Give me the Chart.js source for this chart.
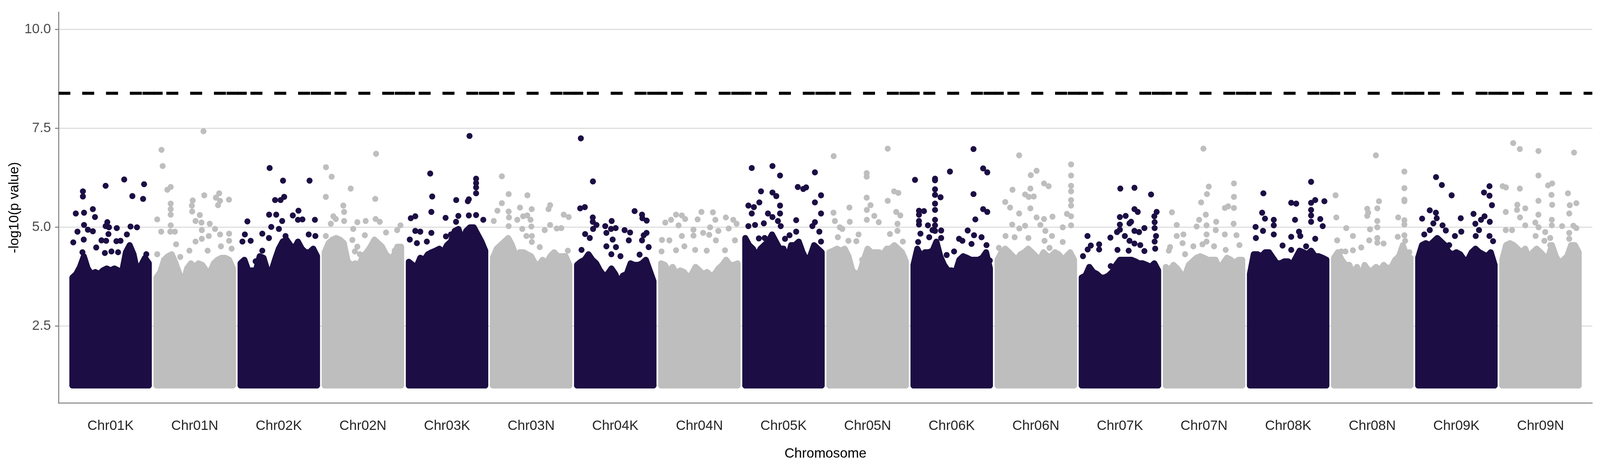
<!DOCTYPE html>
<html>
<head>
<meta charset="utf-8">
<script src="https://cdn.jsdelivr.net/npm/chart.js@4.4.1/dist/chart.umd.min.js"></script>
<style>
html,body{margin:0;padding:0;background:#ffffff;overflow:hidden;}
canvas{display:block;}
</style>
</head>
<body>
<canvas id="chart"></canvas>
<script>
// ---------------- DATA ----------------
const chromosomes = ['Chr01K','Chr01N','Chr02K','Chr02N','Chr03K','Chr03N','Chr04K','Chr04N','Chr05K','Chr05N','Chr06K','Chr06N','Chr07K','Chr07N','Chr08K','Chr08N','Chr09K','Chr09N'];
const chrLength = 100;          // relative position units along each chromosome
const chrSpan = 110;            // cumulative spacing between chromosome starts
const envelopePositions = [0,5,10,15,20,25,30,35,40,45,50,55,60,65,70,75,80,85,90,95,100];
const baseline = 1.0;           // minimum -log10(p) plotted
const threshold = 8.39;         // significance threshold
const thresholdSegStart = -18.3;  // threshold segment start, relative to chromosome start
const thresholdSegEnd = 118.1;    // threshold segment end, relative to chromosome start
const yTicks = [2.5, 5.0, 7.5, 10.0];
const yMin = 0.559, yMax = 10.44;
const xMin = -17.9, xMax = 1987.8;

// top of the dense point mass (at envelopePositions)
const envChr01K = [3.73,3.82,4.00,4.27,3.96,3.82,3.87,3.82,3.91,3.96,3.91,3.96,3.91,3.87,4.37,4.55,4.32,3.87,4.05,4.23,4.09];
const envChr01N = [3.73,3.87,4.18,4.27,4.32,4.09,3.82,3.59,3.96,4.09,4.00,4.09,4.05,3.91,3.87,4.09,4.18,4.23,4.23,4.18,3.96];
const envChr02K = [4.09,4.18,3.91,3.91,3.91,4.27,4.23,3.91,3.87,4.18,4.46,4.64,4.69,4.55,4.46,4.64,4.46,4.37,4.37,4.46,4.27];
const envChr02N = [4.37,4.60,4.69,4.73,4.69,4.60,4.14,4.05,4.09,4.05,4.27,4.37,4.51,4.69,4.60,4.51,4.32,4.23,4.27,4.51,4.51];
const envChr03K = [4.13,4.05,4.00,4.23,4.18,4.32,4.37,4.41,4.46,4.37,4.55,4.64,4.91,4.96,4.64,4.91,5.00,5.00,4.82,4.64,4.41];
const envChr03N = [4.23,4.46,4.55,4.64,4.73,4.55,4.27,4.37,4.37,4.32,4.27,4.09,4.05,4.18,4.09,4.27,4.37,4.27,4.27,4.27,4.05];
const envChr04K = [4.05,4.13,4.18,4.32,4.18,4.09,3.91,3.78,3.82,3.96,3.82,3.59,3.78,3.82,4.09,4.05,4.05,4.09,4.18,3.91,3.64];
const envChr04N = [4.09,4.05,3.87,4.00,3.82,3.91,3.87,3.73,3.82,4.00,3.91,3.82,3.87,3.78,3.82,3.96,4.05,4.18,4.05,4.05,4.09];
const envChr05K = [4.73,4.55,4.46,4.27,4.46,4.55,4.64,4.82,4.64,4.46,4.46,4.18,4.55,4.55,4.64,4.37,4.18,4.27,4.55,4.46,4.37];
const envChr05N = [4.37,4.41,4.46,4.41,4.46,4.27,3.91,3.82,3.87,4.18,4.46,4.37,4.37,4.37,4.32,4.46,4.46,4.55,4.46,4.37,4.14];
const envChr06K = [4.05,4.46,4.27,4.37,4.37,4.41,4.64,4.27,4.05,3.91,3.91,3.87,4.18,4.27,4.23,4.18,4.18,4.18,4.23,4.37,3.96];
const envChr06N = [4.18,4.37,4.46,4.37,4.27,4.18,4.32,4.37,4.46,4.37,4.27,4.18,4.37,4.27,4.27,4.37,4.32,4.18,4.27,4.37,4.18];
const envChr07K = [3.73,3.78,4.00,3.87,3.82,3.73,3.73,3.78,3.87,4.05,4.18,4.18,4.18,4.18,4.14,4.09,4.09,4.05,4.00,4.09,3.91];
const envChr07N = [4.00,3.91,4.05,3.96,3.82,3.78,4.05,4.14,4.23,4.27,4.23,4.18,4.18,4.18,3.96,4.09,4.23,4.18,4.09,4.18,4.18];
const envChr08K = [3.82,4.32,4.32,4.27,4.37,4.37,4.23,4.09,4.09,4.14,4.14,4.05,4.23,4.41,4.37,4.32,4.41,4.27,4.27,4.23,4.18];
const envChr08N = [4.23,4.37,4.18,4.05,4.05,3.82,4.00,3.73,4.05,3.91,3.91,4.00,3.91,4.05,3.96,4.00,4.18,4.27,4.55,4.27,4.23];
const envChr09K = [4.23,4.55,4.60,4.55,4.64,4.73,4.64,4.55,4.37,4.32,4.37,4.32,4.18,4.18,4.37,4.46,4.37,4.32,4.27,4.37,4.05];
const envChr09N = [4.18,4.55,4.60,4.55,4.46,4.37,4.46,4.23,4.37,4.46,4.37,4.27,4.23,4.55,4.27,4.09,4.18,4.27,4.55,4.55,4.37];

// isolated points above the dense mass: [position, -log10(p)]
const outChr01K = [[13.8,5.91],[13.8,5.78],[43.5,6.05],[67.8,6.21],[93.8,6.09],[78.5,5.79],[92.5,5.72],[4.5,5.35],[15.3,5.37],[26.8,5.46],[29.6,5.26],[15.3,5.06],[45.7,5.13],[43.5,5.03],[47.9,5.00],[58.1,4.98],[76.1,5.02],[84.5,5.00],[6.7,4.89],[26.8,4.90],[20.3,4.94],[47.2,4.83],[38.1,4.67],[44.2,4.66],[57.6,4.65],[63.0,4.66],[71.3,4.82],[14.9,4.69],[1.2,4.62],[31.2,4.49],[42.5,4.35],[51.1,4.39],[59.8,4.37],[96.7,4.32],[13.2,4.37]];
const outChr01N = [[61.5,7.43],[6.6,6.96],[8.1,6.55],[14.2,5.95],[18.6,6.02],[62.5,5.81],[77.7,5.75],[82.0,5.86],[83.1,5.67],[80.5,5.56],[94.8,5.70],[47.4,5.68],[46.3,5.55],[46.7,5.40],[18.6,5.60],[18.6,5.46],[18.6,5.32],[1.0,5.20],[56.7,5.31],[51.1,5.16],[58.9,5.12],[18.6,5.05],[69.7,5.09],[76.6,4.96],[59.3,4.93],[68.4,4.78],[6.2,4.89],[18.1,4.89],[24.0,4.89],[25.7,4.57],[31.1,4.25],[51.1,4.64],[59.3,4.71],[95.0,4.84],[95.0,4.66],[98.3,4.46],[83.2,4.82],[84.3,4.52],[43.1,4.41],[66.9,4.41],[1.0,4.32]];
const outChr02K = [[38.0,6.50],[55.5,6.18],[90.2,6.18],[45.1,5.69],[52.3,5.69],[57.0,5.77],[37.3,5.32],[46.6,5.32],[8.9,5.15],[75.7,5.42],[68.3,5.30],[80.9,5.20],[75.0,5.19],[97.2,5.19],[54.4,5.16],[40.1,5.01],[5.6,4.82],[28.4,4.84],[37.1,4.73],[2.4,4.64],[13.2,4.66],[50.1,4.96],[58.8,4.78],[89.1,4.82],[97.8,4.78],[28.4,4.41],[19.7,4.14]];
const outChr02N = [[67.2,6.86],[1.7,6.52],[9.1,6.28],[1.5,5.77],[34.0,5.98],[66.1,5.72],[24.3,5.55],[25.4,5.39],[11.3,5.28],[14.5,5.21],[25.4,5.16],[42.7,5.13],[53.6,5.16],[66.6,5.21],[72.0,5.14],[8.0,5.09],[37.3,4.96],[99.1,5.05],[94.8,4.93],[1.5,4.78],[36.2,4.68],[52.5,4.80],[80.2,4.87],[42.7,4.51],[46.0,4.32],[39.5,4.39],[91.5,4.41],[54.7,4.14]];
const outChr03K = [[79.4,7.31],[28.0,6.36],[88.0,6.23],[88.0,6.12],[88.0,6.01],[88.0,5.86],[30.6,5.78],[62.0,5.69],[77.2,5.66],[78.5,5.71],[29.5,5.39],[2.6,5.23],[8.5,5.28],[48.1,5.24],[64.8,5.29],[78.5,5.30],[88.0,5.31],[97.4,5.19],[61.8,5.14],[8.5,4.91],[15.0,4.89],[29.5,4.86],[1.3,4.69],[10.6,4.60],[23.6,4.64],[48.6,4.77],[55.1,4.82],[98.9,4.43]];
const outChr03N = [[11.7,6.29],[20.6,5.84],[45.1,5.81],[11.7,5.61],[35.4,5.50],[50.7,5.46],[74.8,5.56],[72.7,5.46],[5.9,5.42],[20.6,5.40],[21.0,5.25],[92.6,5.32],[99.1,5.26],[1.1,5.16],[31.9,5.19],[39.5,5.28],[44.9,5.30],[49.2,5.19],[74.8,5.06],[67.7,4.93],[20.6,5.03],[38.4,4.96],[50.3,5.02],[83.5,4.97],[89.4,4.98],[43.8,4.78],[50.9,4.78],[50.9,4.63],[61.2,4.50],[98.0,4.41]];
const outChr04K = [[5.0,7.25],[20.8,6.16],[4.1,5.48],[10.2,5.51],[20.6,5.25],[20.6,5.14],[25.4,5.06],[21.0,4.96],[75.3,5.41],[85.0,5.32],[85.5,5.23],[91.1,5.17],[45.3,5.16],[36.9,5.03],[44.5,4.96],[50.5,4.98],[62.2,4.93],[69.4,4.87],[67.7,4.67],[10.6,4.83],[38.4,4.86],[46.6,4.69],[87.2,4.80],[90.9,4.86],[85.0,4.67],[5.9,4.43],[16.7,4.73],[93.7,4.50],[38.4,4.52],[50.9,4.50],[44.9,4.32],[56.8,4.27],[81.8,4.31]];
const outChr04N = [[52.7,5.39],[67.7,5.38],[19.5,5.32],[27.1,5.30],[31.4,5.21],[5.4,5.12],[13.0,5.19],[47.7,5.20],[70.9,5.19],[84.6,5.25],[94.3,5.19],[98.7,5.09],[22.8,5.05],[42.3,4.94],[54.9,4.86],[64.0,5.00],[74.8,4.91],[62.9,4.81],[27.1,4.78],[42.3,4.79],[88.3,4.97],[1.1,4.68],[10.8,4.67],[71.6,4.67],[96.5,4.67],[30.4,4.52],[44.5,4.43],[59.6,4.41],[19.5,4.42],[0.5,4.39],[83.5,4.42]];
const outChr05K = [[8.5,6.50],[35.6,6.55],[45.5,6.31],[91.1,6.39],[20.6,5.91],[35.6,5.88],[40.6,5.79],[68.7,6.02],[75.9,5.97],[79.6,6.01],[99.1,5.81],[18.4,5.63],[91.1,5.63],[4.1,5.55],[11.3,5.51],[8.5,5.35],[45.5,5.55],[45.5,5.35],[29.7,5.35],[35.6,5.26],[99.1,5.35],[66.6,5.18],[91.1,5.13],[87.8,5.03],[4.1,5.03],[12.8,5.06],[24.3,5.10],[42.7,5.16],[46.4,5.03],[66.6,4.89],[57.9,4.80],[52.0,4.71],[96.9,4.89],[99.1,4.64],[17.8,4.72],[25.4,4.73]];
const outChr05N = [[5.6,6.80],[76.3,6.99],[48.8,6.37],[48.8,6.28],[84.6,5.91],[90.2,5.87],[76.3,5.67],[48.8,5.75],[53.8,5.56],[26.2,5.50],[5.4,5.37],[7.2,5.16],[26.7,5.14],[49.0,5.44],[49.0,5.19],[58.8,5.29],[64.6,5.13],[87.4,5.39],[92.8,5.30],[89.1,5.09],[13.7,5.00],[16.9,4.96],[38.2,4.82],[35.3,4.65],[79.2,4.83],[11.1,4.75],[24.9,4.66],[89.1,4.91],[96.1,4.64],[98.2,4.24],[42.9,4.18]];
const outChr06K = [[78.5,6.98],[2.0,6.20],[28.2,6.23],[28.2,6.19],[47.7,6.41],[91.1,6.49],[96.5,6.39],[28.2,5.96],[28.2,5.82],[35.4,5.76],[78.5,5.84],[28.2,5.60],[28.2,5.44],[7.2,5.42],[13.7,5.41],[7.2,5.32],[91.1,5.46],[96.5,5.39],[80.9,5.20],[7.2,5.16],[7.2,5.07],[18.9,5.05],[24.9,4.93],[28.2,5.19],[28.2,5.05],[28.2,4.91],[70.9,4.92],[36.2,4.92],[36.2,4.73],[9.1,4.84],[20.6,4.75],[79.2,4.80],[75.9,4.58],[89.0,4.75],[95.5,4.55],[59.6,4.71],[64.0,4.66],[6.1,4.63],[53.1,4.39],[43.4,4.30],[99.8,4.16]];
const outChr06N = [[28.2,6.82],[51.0,6.43],[43.4,6.32],[96.1,6.59],[96.1,6.31],[60.7,6.11],[66.8,6.04],[19.5,5.95],[42.9,5.98],[36.0,5.83],[40.8,5.77],[47.3,5.78],[96.1,6.05],[96.1,5.91],[96.1,5.69],[10.0,5.64],[16.3,5.50],[42.9,5.48],[28.2,5.35],[51.0,5.25],[60.7,5.21],[71.8,5.27],[90.7,5.34],[96.1,5.55],[96.1,5.28],[19.1,5.07],[28.4,4.97],[36.0,5.04],[56.0,5.06],[62.5,4.91],[85.2,5.00],[96.1,5.05],[10.4,4.78],[22.3,4.75],[71.1,4.78],[40.3,4.73],[85.2,4.63],[1.7,4.48],[13.7,4.39],[61.4,4.66],[67.9,4.48],[82.0,4.27]];
const outChr07K = [[50.5,5.98],[69.0,6.00],[90.7,5.83],[69.0,5.46],[73.3,5.39],[98.0,5.39],[95.0,5.28],[95.4,5.13],[49.9,5.26],[57.5,5.29],[64.6,5.14],[62.5,5.10],[49.9,5.07],[49.9,4.94],[82.0,4.98],[69.0,4.91],[75.0,4.88],[95.4,4.98],[97.2,4.78],[95.4,4.64],[7.6,4.78],[37.5,4.74],[46.2,4.88],[56.4,4.78],[62.5,4.66],[69.0,4.59],[76.6,4.55],[11.9,4.54],[7.8,4.44],[1.7,4.27],[22.8,4.57],[22.8,4.44],[46.8,4.43],[61.4,4.41],[82.0,4.40],[96.1,4.46],[38.0,4.02]];
const outChr07N = [[49.2,6.99],[56.2,6.03],[53.8,5.84],[89.1,6.11],[89.1,5.77],[89.1,5.49],[46.2,5.63],[77.2,5.49],[81.5,5.53],[8.0,5.38],[52.3,5.32],[43.6,5.19],[65.9,5.14],[14.3,5.06],[40.3,5.02],[53.3,5.05],[65.3,4.93],[88.7,5.09],[14.3,4.78],[23.0,4.82],[77.2,4.82],[92.4,4.80],[21.9,4.60],[53.3,4.82],[53.3,4.64],[3.9,4.41],[5.6,4.50],[36.0,4.52],[47.9,4.57],[63.1,4.52],[96.3,4.55],[25.2,4.32],[78.3,4.43]];
const outChr08K = [[17.6,5.86],[80.0,6.15],[54.0,5.62],[60.5,5.60],[80.0,5.62],[85.4,5.69],[97.4,5.66],[16.0,5.37],[19.7,5.22],[31.2,5.19],[59.0,5.19],[80.0,5.44],[80.0,5.30],[80.0,5.14],[92.0,5.21],[95.2,5.03],[7.4,5.01],[17.1,4.91],[31.2,5.05],[7.8,4.73],[5.6,4.11],[54.0,4.76],[54.0,4.43],[64.2,4.89],[65.9,4.78],[42.7,4.54],[85.4,4.71],[73.5,4.52],[31.2,4.82]];
const outChr08N = [[54.7,6.82],[92.0,6.41],[92.0,5.99],[92.0,5.70],[92.0,5.66],[2.0,5.81],[58.8,5.66],[56.6,5.48],[43.4,5.47],[44.7,5.37],[43.4,5.29],[3.0,5.25],[56.6,5.16],[56.6,5.00],[83.9,5.25],[92.0,5.18],[92.0,5.07],[16.0,4.98],[47.1,4.95],[24.7,4.78],[56.6,4.73],[56.6,4.61],[46.0,4.67],[4.1,4.67],[83.3,4.76],[92.0,4.80],[93.0,4.66],[64.8,4.59],[35.6,4.49],[24.7,4.42],[9.5,4.39],[15.0,4.39],[98.5,4.37]];
const outChr09K = [[23.4,6.27],[31.0,6.07],[43.8,5.81],[93.3,6.04],[86.1,5.88],[93.3,5.80],[96.5,5.56],[15.2,5.43],[23.2,5.37],[5.2,5.22],[55.7,5.23],[72.4,5.34],[86.8,5.28],[82.2,5.19],[93.7,5.14],[24.3,5.23],[19.9,5.10],[31.9,5.05],[36.2,4.92],[74.8,5.09],[8.0,4.82],[15.2,4.93],[56.4,4.89],[48.1,4.78],[75.3,4.78],[79.6,4.93],[93.3,4.78],[98.0,4.65],[40.6,4.55]];
const outChr09N = [[14.3,7.13],[23.0,6.98],[47.3,6.93],[93.9,6.89],[47.3,6.31],[0.5,6.04],[4.8,6.01],[23.0,5.98],[59.9,6.06],[65.3,6.11],[64.4,5.82],[85.9,5.86],[47.3,5.67],[19.7,5.57],[30.1,5.48],[19.3,5.44],[65.3,5.57],[88.3,5.56],[96.9,5.61],[4.6,5.39],[23.2,5.25],[47.3,5.32],[87.6,5.35],[64.8,5.19],[64.8,5.05],[43.2,5.12],[47.5,5.00],[30.1,5.05],[78.3,5.03],[93.0,5.04],[96.9,4.98],[56.2,4.88],[55.1,4.66],[4.6,4.93],[12.8,4.93],[87.6,4.86],[87.6,4.71],[43.6,4.78],[62.7,4.73],[62.7,4.55]];

const envelopes = [envChr01K,envChr01N,envChr02K,envChr02N,envChr03K,envChr03N,envChr04K,envChr04N,envChr05K,envChr05N,envChr06K,envChr06N,envChr07K,envChr07N,envChr08K,envChr08N,envChr09K,envChr09N];
const outliers = [outChr01K,outChr01N,outChr02K,outChr02N,outChr03K,outChr03N,outChr04K,outChr04N,outChr05K,outChr05N,outChr06K,outChr06N,outChr07K,outChr07N,outChr08K,outChr08N,outChr09K,outChr09N];

// ---------------- STYLE / LAYOUT ----------------
const colorDark = '#1c0e44';
const colorLight = '#bebebe';
const FONT = "'Liberation Sans', Arial, Helvetica, sans-serif";

// fit the drawing to the actual viewport (design size 4800 x 1200)
const W = window.innerWidth || 4800;
const H = window.innerHeight || 1200;
const sx = W / 4800, sy = H / 1200;
const s = Math.min(sx, sy);

const canvas = document.getElementById('chart');
canvas.style.width = W + 'px';
canvas.style.height = H + 'px';

const pointRadius = 9 * s;
Chart.defaults.font.family = FONT;

const datasets = [];
// threshold line: one dashed segment per chromosome (drawn on top)
chromosomes.forEach((c, i) => {
  const off = i * chrSpan;
  datasets.push({
    type: 'line',
    data: [{x: off + thresholdSegStart, y: threshold}, {x: off + thresholdSegEnd, y: threshold}],
    borderColor: '#000000',
    borderWidth: 9 * s,
    borderDash: [36 * sx, 35.5 * sx],
    borderCapStyle: 'butt',
    pointRadius: 0,
    fill: false,
    tension: 0
  });
});

chromosomes.forEach((c, i) => {
  const off = i * chrSpan;
  const col = i % 2 === 0 ? colorDark : colorLight;
  // isolated points
  datasets.push({
    type: 'scatter',
    data: outliers[i].map(p => ({x: off + p[0], y: p[1]})),
    backgroundColor: col,
    borderColor: col,
    borderWidth: 0,
    pointRadius: pointRadius,
    pointHoverRadius: pointRadius
  });
  // dense mass outline
  const poly = [{x: off, y: baseline}];
  envelopePositions.forEach((p, k) => poly.push({x: off + p, y: envelopes[i][k]}));
  poly.push({x: off + chrLength, y: baseline});
  datasets.push({
    type: 'line',
    data: poly,
    borderColor: col,
    backgroundColor: col,
    borderWidth: pointRadius * 2,
    borderJoinStyle: 'round',
    borderCapStyle: 'round',
    pointRadius: 0,
    tension: 0,
    fill: {value: baseline}
  });
  // bottom edge of the dense mass (points at the baseline)
  datasets.push({
    type: 'line',
    data: [{x: off, y: baseline}, {x: off + chrLength, y: baseline}],
    borderColor: col,
    borderWidth: pointRadius * 2,
    borderCapStyle: 'round',
    pointRadius: 0,
    fill: false
  });
});

new Chart(canvas, {
  type: 'line',
  data: {datasets},
  options: {
    responsive: false,
    animation: false,
    events: [],
    layout: {padding: {left: 0, right: 23 * sx, top: 23 * sy, bottom: 0}},
    plugins: {legend: {display: false}, tooltip: {enabled: false}},
    scales: {
      x: {
        type: 'linear',
        position: 'bottom',
        min: xMin,
        max: xMax,
        afterBuildTicks: (scale) => { scale.ticks = chromosomes.map((c, i) => ({value: i * chrSpan + chrLength / 2})); },
        afterFit: (scale) => { scale.height = 169 * sy; },
        ticks: {
          autoSkip: false,
          maxRotation: 0,
          minRotation: 0,
          padding: 38 * sy,
          color: '#262626',
          font: {size: 41 * s, family: FONT},
          callback: (v, idx) => chromosomes[idx]
        },
        grid: {display: false, drawTicks: false},
        border: {display: true, color: '#808080', width: 3 * s},
        title: {display: true, text: 'Chromosome', color: '#000000', font: {size: 41 * s, family: FONT}, padding: {top: 0, bottom: 18 * sy}}
      },
      y: {
        type: 'linear',
        position: 'left',
        min: yMin,
        max: yMax,
        afterBuildTicks: (scale) => { scale.ticks = yTicks.map(v => ({value: v})); },
        afterFit: (scale) => { scale.width = 176 * sx; },
        ticks: {
          padding: 12 * sx,
          color: '#4d4d4d',
          font: {size: 41 * s, family: FONT},
          callback: (v) => Number(v).toFixed(1)
        },
        grid: {color: '#d9d9d9', lineWidth: 3 * s, drawTicks: true, tickLength: 11 * sx, tickColor: '#808080', tickWidth: 3 * s},
        border: {display: true, color: '#808080', width: 3 * s},
        title: {display: true, text: '-log10(p value)', color: '#000000', font: {size: 41 * s, family: FONT}, padding: {top: 19 * sx, bottom: 0}}
      }
    }
  }
});
</script>
</body>
</html>
